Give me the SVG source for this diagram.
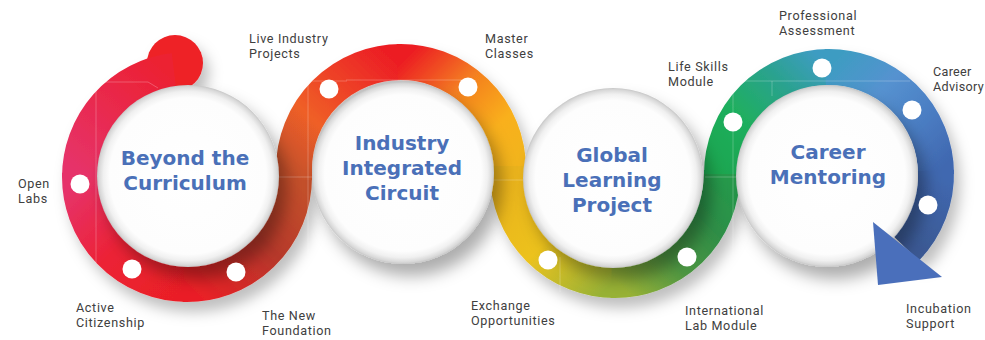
<svg xmlns="http://www.w3.org/2000/svg" width="985" height="340" viewBox="0 0 985 340">
  <defs>
    <style>
      .seg { fill: none; stroke-width: 36; stroke-linecap: butt; }
      .disc { fill: url(#discFill); filter: url(#discShadow); }
      .title { font-family: "DejaVu Sans", "Open Sans", sans-serif; font-weight: 700; font-size: 20px; fill: #4a70b8; text-anchor: middle; }
      .label { font-family: Roboto, "Liberation Sans", sans-serif; font-size: 12.6px; letter-spacing: 0.65px; fill: #404040; }
      .tight { letter-spacing: 0.3px; }
      .dot { fill: #ffffff; }
      .guide { fill: none; stroke: #ffffff; stroke-opacity: 0.3; stroke-width: 0.8; }
    </style>
    <filter id="ringShadow" x="-10%" y="-10%" width="130%" height="140%">
      <feDropShadow dx="6" dy="10" stdDeviation="7" flood-color="#000" flood-opacity="0.25"/>
    </filter>
    <filter id="discShadow" x="-30%" y="-30%" width="170%" height="170%">
      <feDropShadow dx="8" dy="12" stdDeviation="8" flood-color="#000" flood-opacity="0.32"/>
    </filter>
    <radialGradient id="discFill" cx="0.5" cy="0.5" r="0.5">
      <stop offset="0" stop-color="#ffffff"/>
      <stop offset="0.86" stop-color="#fdfdfd"/>
      <stop offset="0.93" stop-color="#f0f0f0"/>
      <stop offset="0.98" stop-color="#d8d8d8"/>
      <stop offset="1" stop-color="#c6c6c6"/>
    </radialGradient>
    <!-- ring colour runs, one gradient per arc segment -->
    <linearGradient id="g1a" gradientUnits="userSpaceOnUse" x1="174" y1="71" x2="80" y2="177">
      <stop offset="0" stop-color="#ec2030"/>
      <stop offset="1" stop-color="#e6336a"/>
    </linearGradient>
    <linearGradient id="g1b" gradientUnits="userSpaceOnUse" x1="80" y1="177" x2="187" y2="284">
      <stop offset="0" stop-color="#e6336a"/>
      <stop offset="0.5" stop-color="#ec2236"/>
      <stop offset="1" stop-color="#ea1f26"/>
    </linearGradient>
    <linearGradient id="g1c" gradientUnits="userSpaceOnUse" x1="187" y1="284" x2="294" y2="177">
      <stop offset="0" stop-color="#ea1f26"/>
      <stop offset="0.55" stop-color="#b6382a"/>
      <stop offset="1" stop-color="#c4502a"/>
    </linearGradient>
    <linearGradient id="g2a" gradientUnits="userSpaceOnUse" x1="294" y1="177" x2="401" y2="62">
      <stop offset="0" stop-color="#c4502a"/>
      <stop offset="0.35" stop-color="#ef5f28"/>
      <stop offset="1" stop-color="#ec1c24"/>
    </linearGradient>
    <linearGradient id="g2b" gradientUnits="userSpaceOnUse" x1="401" y1="62" x2="508" y2="169">
      <stop offset="0" stop-color="#ec1c24"/>
      <stop offset="0.4" stop-color="#f47f20"/>
      <stop offset="0.75" stop-color="#f9b01a"/>
      <stop offset="1" stop-color="#f2b41a"/>
    </linearGradient>
    <linearGradient id="g3a" gradientUnits="userSpaceOnUse" x1="508" y1="173" x2="615" y2="280">
      <stop offset="0" stop-color="#eab21b"/>
      <stop offset="0.5" stop-color="#ecc21e"/>
      <stop offset="1" stop-color="#98b236"/>
    </linearGradient>
    <linearGradient id="g3b" gradientUnits="userSpaceOnUse" x1="615" y1="280" x2="722" y2="173">
      <stop offset="0" stop-color="#98b236"/>
      <stop offset="0.35" stop-color="#4e9642"/>
      <stop offset="0.7" stop-color="#2e8e46"/>
      <stop offset="1" stop-color="#259a4c"/>
    </linearGradient>
    <linearGradient id="g4a" gradientUnits="userSpaceOnUse" x1="722" y1="174" x2="829" y2="67">
      <stop offset="0" stop-color="#1ea650"/>
      <stop offset="0.35" stop-color="#1faf5e"/>
      <stop offset="0.7" stop-color="#2aa28e"/>
      <stop offset="1" stop-color="#3e9cc2"/>
    </linearGradient>
    <linearGradient id="g4b" gradientUnits="userSpaceOnUse" x1="829" y1="67" x2="936" y2="174">
      <stop offset="0" stop-color="#3e9cc2"/>
      <stop offset="0.35" stop-color="#5592d0"/>
      <stop offset="0.7" stop-color="#4a7cc2"/>
      <stop offset="1" stop-color="#4068b0"/>
    </linearGradient>
    <linearGradient id="g4c" gradientUnits="userSpaceOnUse" x1="936" y1="174" x2="906" y2="248">
      <stop offset="0" stop-color="#4068b0"/>
      <stop offset="1" stop-color="#3a5892"/>
    </linearGradient>
  </defs>

  <rect width="985" height="340" fill="#ffffff"/>

  <!-- the continuous ribbon that links the four stages -->
  <g id="connectors" filter="url(#ringShadow)">
    <circle cx="175" cy="63" r="28" fill="#ee2026"/>
    <path class="seg" stroke="url(#g1a)" d="M174 70.8 A107 107 0 0 0 80 177"/>
    <path class="seg" stroke="url(#g1b)" d="M80.07 173.27 A107 107 0 0 0 187 284"/>
    <path class="seg" stroke="url(#g1c)" d="M183.27 283.93 A107 107 0 0 0 294 177"/>
    <path class="seg" stroke="url(#g2a)" d="M294 180 L294 169 A107 107 0 0 1 401 62"/>
    <path class="seg" stroke="url(#g2b)" d="M397.27 62.07 A107 107 0 0 1 508 169 L508 173"/>
    <path class="seg" stroke="url(#g3a)" d="M508 166 L508 173 A107 107 0 0 0 615 280"/>
    <path class="seg" stroke="url(#g3b)" d="M611.27 279.93 A107 107 0 0 0 722 173 L722 174"/>
    <path class="seg" stroke="url(#g4a)" d="M722 170 L722 174 A107 107 0 0 1 829 67"/>
    <path class="seg" stroke="url(#g4b)" d="M825.27 67.07 A107 107 0 0 1 936 174"/>
    <path class="seg" stroke="url(#g4c)" d="M935.93 170.27 A107 107 0 0 1 905.97 248.33"/>
  </g>

  <!-- faint layout guides printed over the ribbon -->
  <g id="guides">
    <path class="guide" d="M96 263 V82 H148 L158 88"/>
    <path class="guide" d="M308 300 V81 H347"/>
    <path class="guide" d="M278 177 H312"/>
    <path class="guide" d="M346 80 H462"/>
    <path class="guide" d="M493 180 H523"/>
    <path class="guide" d="M560 257 V292"/>
    <path class="guide" d="M705 177 H737"/>
    <path class="guide" d="M733 300 V81 H910"/>
    <path class="guide" d="M772 81 V96"/>
  </g>

  <!-- stage nodes -->
  <g id="node-beyond-curriculum">
    <circle class="disc" cx="188" cy="176" r="91"/>
    <text class="title" x="185" y="165">Beyond the<tspan x="185" dy="25">Curriculum</tspan></text>
  </g>
  <g id="node-industry-circuit">
    <circle class="disc" cx="403" cy="173" r="91"/>
    <text class="title" x="402" y="150">Industry<tspan x="402" dy="25">Integrated</tspan><tspan x="402" dy="25">Circuit</tspan></text>
  </g>
  <g id="node-global-learning">
    <circle class="disc" cx="613" cy="178" r="90"/>
    <text class="title" x="612" y="162">Global<tspan x="612" dy="25">Learning</tspan><tspan x="612" dy="25">Project</tspan></text>
  </g>
  <g id="node-career-mentoring">
    <circle class="disc" cx="827" cy="176" r="91"/>
    <text class="title" x="828" y="159">Career<tspan x="828" dy="25">Mentoring</tspan></text>
  </g>

  <!-- arrowhead closing the ribbon -->
  <polygon id="arrowhead" points="873,222 942,277 878,285" fill="#4a6fbb"/>

  <!-- milestone markers -->
  <g id="markers">
    <circle class="dot" cx="80" cy="184" r="9.5"/>
    <circle class="dot" cx="132" cy="269" r="9.5"/>
    <circle class="dot" cx="236" cy="272" r="9.5"/>
    <circle class="dot" cx="329" cy="89" r="9.5"/>
    <circle class="dot" cx="468" cy="87" r="9.5"/>
    <circle class="dot" cx="548" cy="260" r="9.5"/>
    <circle class="dot" cx="687" cy="257" r="9.5"/>
    <circle class="dot" cx="733" cy="122" r="9.5"/>
    <circle class="dot" cx="822" cy="68" r="9.5"/>
    <circle class="dot" cx="912" cy="110" r="9.5"/>
    <circle class="dot" cx="928" cy="205" r="9.5"/>
  </g>

  <!-- milestone captions -->
  <g id="labels">
    <text class="label" x="18" y="188">Open<tspan x="18" dy="15">Labs</tspan></text>
    <text class="label" x="76" y="312">Active<tspan x="76" dy="15">Citizenship</tspan></text>
    <text class="label" x="262" y="320">The New<tspan x="262" dy="15">Foundation</tspan></text>
    <text class="label" x="249" y="43">Live Industry<tspan x="249" dy="15">Projects</tspan></text>
    <text class="label" x="485" y="43">Master<tspan x="485" dy="15">Classes</tspan></text>
    <text class="label" x="471" y="310">Exchange<tspan x="471" dy="15">Opportunities</tspan></text>
    <text class="label" x="668" y="71">Life Skills<tspan x="668" dy="15">Module</tspan></text>
    <text class="label" x="685" y="315">International<tspan x="685" dy="15">Lab Module</tspan></text>
    <text class="label" x="779" y="20">Professional<tspan x="779" dy="15">Assessment</tspan></text>
    <text class="label tight" x="933" y="76">Career<tspan x="933" dy="15">Advisory</tspan></text>
    <text class="label" x="906" y="313">Incubation<tspan x="906" dy="15">Support</tspan></text>
  </g>
</svg>
